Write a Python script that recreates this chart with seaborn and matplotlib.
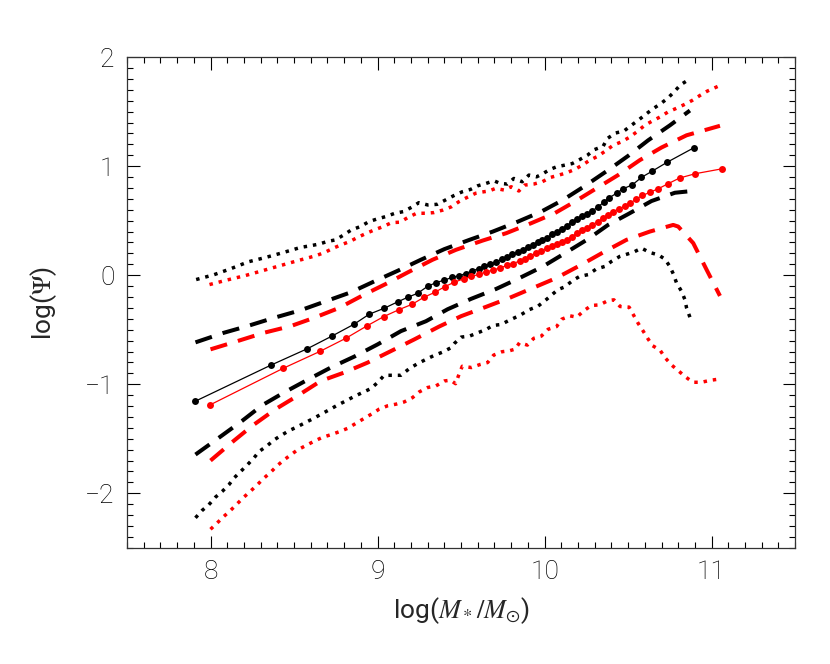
import matplotlib
matplotlib.use("Agg")
import matplotlib.pyplot as plt
import seaborn as sns
import pandas as pd
from matplotlib.ticker import MultipleLocator

# ---------------- data ----------------
bm_x = [7.91, 8.36, 8.58, 8.73, 8.86, 8.95, 9.04, 9.12, 9.18, 9.24, 9.30, 9.35, 9.40, 9.447, 9.487,
        9.528, 9.568, 9.605, 9.639, 9.675, 9.71, 9.744, 9.776, 9.806, 9.84, 9.871, 9.901, 9.931, 9.961,
        9.986, 10.016, 10.046, 10.076, 10.102, 10.133, 10.163, 10.193, 10.223, 10.254, 10.284, 10.318,
        10.354, 10.384, 10.431, 10.471, 10.526, 10.58, 10.643, 10.734, 10.893]
bm_y = [-1.155, -0.826, -0.674, -0.556, -0.449, -0.358, -0.303, -0.245, -0.203, -0.166, -0.102, -0.068,
        -0.045, -0.02, -0.005, 0.015, 0.04, 0.06, 0.082, 0.1, 0.122, 0.147, 0.168, 0.19, 0.21, 0.232,
        0.258, 0.28, 0.30, 0.322, 0.345, 0.375, 0.399, 0.424, 0.451, 0.488, 0.512, 0.543, 0.565, 0.588,
        0.624, 0.669, 0.707, 0.752, 0.793, 0.829, 0.897, 0.953, 1.036, 1.168]

rm_x = [7.994, 8.435, 8.655, 8.812, 8.934, 9.038, 9.13, 9.208, 9.277, 9.343, 9.403, 9.457, 9.518,
        9.562, 9.608, 9.649, 9.689, 9.735, 9.776, 9.81, 9.85, 9.884, 9.915, 9.951, 9.981, 10.012,
        10.042, 10.072, 10.102, 10.133, 10.163, 10.193, 10.223, 10.254, 10.284, 10.318, 10.35, 10.378,
        10.411, 10.445, 10.479, 10.512, 10.546, 10.586, 10.633, 10.681, 10.738, 10.808, 10.903, 11.06]
rm_y = [-1.192, -0.854, -0.699, -0.577, -0.467, -0.379, -0.315, -0.266, -0.203, -0.157, -0.105, -0.066,
        -0.032, -0.012, 0.008, 0.03, 0.046, 0.067, 0.091, 0.107, 0.129, 0.153, 0.178, 0.199, 0.218, 0.245,
        0.267, 0.282, 0.30, 0.322, 0.353, 0.384, 0.412, 0.436, 0.46, 0.491, 0.521, 0.552, 0.584, 0.608,
        0.632, 0.658, 0.697, 0.731, 0.762, 0.793, 0.838, 0.891, 0.931, 0.975]

bu_x = [7.91, 8.08, 8.22, 8.38, 8.54, 8.69, 8.84, 8.98, 9.12, 9.26, 9.40, 9.55, 9.69, 9.84, 9.98,
        10.11, 10.24, 10.38, 10.50, 10.62, 10.75, 10.87]
bu_y = [-0.616, -0.528, -0.467, -0.391, -0.321, -0.239, -0.157, -0.057, 0.04, 0.142, 0.239, 0.324,
        0.40, 0.491, 0.583, 0.69, 0.817, 0.963, 1.094, 1.237, 1.374, 1.51]

ru_x = [8.0, 8.16, 8.32, 8.48, 8.62, 8.77, 8.92, 9.05, 9.18, 9.33, 9.47, 9.63, 9.77, 9.92, 10.06,
        10.18, 10.31, 10.44, 10.57, 10.70, 10.85, 11.05]
ru_y = [-0.68, -0.605, -0.528, -0.467, -0.391, -0.30, -0.178, -0.08, 0.025, 0.142, 0.233, 0.318,
        0.385, 0.477, 0.568, 0.674, 0.796, 0.918, 1.055, 1.171, 1.283, 1.37]

bl_x = [7.91, 8.04, 8.19, 8.31, 8.44, 8.58, 8.72, 8.86, 9.0, 9.14, 9.29, 9.42, 9.56, 9.71, 9.85,
        9.99, 10.12, 10.26, 10.38, 10.50, 10.64, 10.78, 10.87]
bl_y = [-1.645, -1.502, -1.335, -1.192, -1.076, -0.96, -0.847, -0.747, -0.635, -0.513, -0.422, -0.312,
        -0.217, -0.126, -0.026, 0.08, 0.2, 0.331, 0.461, 0.56, 0.68, 0.756, 0.77]

rl_x = [8.0, 8.14, 8.25, 8.39, 8.52, 8.66, 8.80, 8.94, 9.08, 9.22, 9.37, 9.50, 9.65, 9.79, 9.93,
        10.07, 10.22, 10.36, 10.49, 10.63, 10.77, 10.80, 10.89, 10.97, 11.05]
rl_y = [-1.70, -1.518, -1.381, -1.228, -1.107, -0.97, -0.893, -0.802, -0.696, -0.589, -0.47, -0.376,
        -0.29, -0.208, -0.117, -0.026, 0.096, 0.217, 0.324, 0.40, 0.461, 0.446, 0.294, 0.05, -0.19]

bU_x = [7.914, 8.018, 8.117, 8.227, 8.331, 8.436, 8.54, 8.595, 8.649, 8.699, 8.749, 8.798, 8.844,
        8.898, 8.948, 8.998, 9.048, 9.104, 9.154, 9.204, 9.247, 9.301, 9.357, 9.407, 9.457, 9.507,
        9.557, 9.60, 9.65, 9.697, 9.733, 9.777, 9.816, 9.866, 9.906, 9.952, 9.992, 10.032, 10.072,
        10.12, 10.166, 10.211, 10.256, 10.299, 10.351, 10.375, 10.425, 10.475, 10.519, 10.565, 10.605,
        10.65, 10.695, 10.738, 10.774, 10.814, 10.87]
bU_y = [-0.04, 0.003, 0.057, 0.123, 0.163, 0.208, 0.255, 0.269, 0.285, 0.309, 0.324, 0.37, 0.416,
        0.446, 0.491, 0.516, 0.537, 0.568, 0.583, 0.623, 0.665, 0.644, 0.65, 0.69, 0.73, 0.765, 0.787,
        0.82, 0.842, 0.866, 0.842, 0.836, 0.887, 0.857, 0.918, 0.902, 0.933, 0.97, 0.994, 1.009, 1.024,
        1.061, 1.1, 1.152, 1.183, 1.253, 1.304, 1.322, 1.374, 1.426, 1.475, 1.527, 1.573, 1.624, 1.679,
        1.746, 1.80]

rU_x = [7.994, 8.102, 8.207, 8.313, 8.416, 8.519, 8.579, 8.629, 8.683, 8.735, 8.783, 8.834, 8.884,
        8.934, 8.982, 9.034, 9.084, 9.134, 9.184, 9.234, 9.287, 9.337, 9.393, 9.443, 9.487, 9.537,
        9.587, 9.627, 9.667, 9.707, 9.757, 9.80, 9.846, 9.88, 9.936, 9.986, 10.036, 10.086, 10.132,
        10.18, 10.226, 10.271, 10.319, 10.365, 10.411, 10.459, 10.505, 10.551, 10.599, 10.645, 10.69,
        10.738, 10.784, 10.834, 10.884, 10.93, 10.974, 11.05]
rU_y = [-0.086, -0.043, -0.004, 0.042, 0.087, 0.132, 0.157, 0.178, 0.208, 0.248, 0.279, 0.309, 0.349,
        0.385, 0.416, 0.446, 0.482, 0.486, 0.531, 0.568, 0.568, 0.574, 0.598, 0.628, 0.674, 0.714,
        0.751, 0.763, 0.772, 0.796, 0.781, 0.811, 0.772, 0.826, 0.836, 0.857, 0.897, 0.918, 0.939,
        0.97, 1.009, 1.055, 1.091, 1.14, 1.192, 1.222, 1.262, 1.313, 1.374, 1.414, 1.45, 1.496, 1.527,
        1.563, 1.603, 1.648, 1.688, 1.74]

bL_x = [7.91, 7.95, 7.99, 8.03, 8.07, 8.11, 8.14, 8.18, 8.22, 8.26, 8.29, 8.34, 8.38, 8.42, 8.47,
        8.52, 8.57, 8.62, 8.67, 8.71, 8.76, 8.81, 8.86, 8.91, 8.96, 9.0, 9.04, 9.09, 9.14, 9.19, 9.24,
        9.29, 9.34, 9.39, 9.44, 9.46, 9.50, 9.55, 9.60, 9.65, 9.69, 9.74, 9.78, 9.82, 9.86, 9.91, 9.96,
        10.01, 10.08, 10.12, 10.17, 10.21, 10.26, 10.31, 10.36, 10.40, 10.45, 10.50, 10.54, 10.58,
        10.63, 10.68, 10.72, 10.75, 10.77, 10.79, 10.82, 10.84, 10.85, 10.87]
bL_y = [-2.225, -2.157, -2.105, -2.035, -1.983, -1.922, -1.861, -1.801, -1.74, -1.676, -1.618, -1.563,
        -1.511, -1.472, -1.426, -1.39, -1.35, -1.311, -1.268, -1.235, -1.192, -1.153, -1.112, -1.076,
        -1.04, -0.985, -0.918, -0.918, -0.918, -0.857, -0.811, -0.772, -0.735, -0.705, -0.665, -0.626,
        -0.568, -0.559, -0.528, -0.498, -0.461, -0.452, -0.42, -0.391, -0.361, -0.315, -0.285, -0.224,
        -0.132, -0.108, -0.047, -0.011, 0.005, 0.057, 0.08, 0.126, 0.172, 0.196, 0.217, 0.248, 0.208,
        0.187, 0.148, 0.08, 0.014, -0.071, -0.148, -0.224, -0.3, -0.385]

rL_x = [8.0, 8.04, 8.08, 8.12, 8.16, 8.20, 8.24, 8.28, 8.32, 8.36, 8.40, 8.44, 8.48, 8.52, 8.57, 8.62,
        8.67, 8.72, 8.77, 8.82, 8.87, 8.92, 8.97, 9.01, 9.06, 9.11, 9.16, 9.21, 9.25, 9.30, 9.35, 9.40,
        9.437, 9.467, 9.487, 9.507, 9.562, 9.614, 9.659, 9.695, 9.745, 9.79, 9.824, 9.85, 9.897, 9.935,
        9.981, 10.021, 10.072, 10.102, 10.153, 10.193, 10.234, 10.28, 10.33, 10.381, 10.415, 10.452,
        10.506, 10.532, 10.56, 10.59, 10.617, 10.647, 10.691, 10.722, 10.762, 10.802, 10.844, 10.888,
        10.939, 10.996, 11.05]
rL_y = [-2.33, -2.272, -2.212, -2.157, -2.096, -2.035, -1.98, -1.922, -1.861, -1.807, -1.746, -1.694,
        -1.648, -1.603, -1.563, -1.523, -1.487, -1.463, -1.436, -1.405, -1.359, -1.313, -1.268, -1.228,
        -1.198, -1.183, -1.162, -1.122, -1.07, -1.03, -1.015, -0.97, -0.963, -0.995, -0.912, -0.835,
        -0.847, -0.819, -0.801, -0.733, -0.702, -0.693, -0.678, -0.619, -0.641, -0.579, -0.558, -0.496,
        -0.471, -0.404, -0.373, -0.385, -0.327, -0.278, -0.272, -0.232, -0.226, -0.287, -0.293, -0.364,
        -0.441, -0.512, -0.579, -0.647, -0.687, -0.758, -0.826, -0.878, -0.933, -0.982, -0.982, -0.963,
        -0.952]

x_ticks = [8, 9, 10, 11]
y_ticks = [-2, -1, 0, 1, 2]

# ---------------- style ----------------
sns.set_style("ticks")
plt.rcParams["font.family"] = ["Roboto", "DejaVu Sans"]
plt.rcParams["font.weight"] = "light"
plt.rcParams["mathtext.fontset"] = "stix"

fig = plt.figure(figsize=(8.3, 6.64), dpi=100)
ax = fig.add_axes([0.153, 0.175, 0.805, 0.739])

RED = "#ff0000"
DOT = (0, (1, 1.7))
DASH = (0, (4.3, 2.8))


def draw(x, y, color, **kw):
    df = pd.DataFrame({"x": x, "y": y})
    sns.lineplot(data=df, x="x", y="y", ax=ax, color=color, sort=False,
                 estimator=None, legend=False, **kw)


# dotted outer envelopes
for xs, ys, c in [(bU_x, bU_y, "black"), (rU_x, rU_y, RED),
                  (bL_x, bL_y, "black"), (rL_x, rL_y, RED)]:
    draw(xs, ys, c, linestyle=DOT, linewidth=2.5, dash_capstyle="butt")

# dashed inner envelopes
for xs, ys, c in [(bu_x, bu_y, "black"), (ru_x, ru_y, RED),
                  (bl_x, bl_y, "black"), (rl_x, rl_y, RED)]:
    draw(xs, ys, c, linestyle=DASH, linewidth=2.9, dash_capstyle="butt")

# medians
draw(bm_x, bm_y, "black", linewidth=0.9, marker="o", markersize=5,
     markeredgewidth=0, markerfacecolor="black")
draw(rm_x, rm_y, RED, linewidth=0.9, marker="o", markersize=5,
     markeredgewidth=0, markerfacecolor=RED)

ax.set_xlim(7.5, 11.5)
ax.set_ylim(-2.5, 2.0)
ax.set_xticks(x_ticks)
ax.set_yticks(y_ticks)
ax.xaxis.set_minor_locator(MultipleLocator(0.1))
ax.yaxis.set_minor_locator(MultipleLocator(0.1))
ax.tick_params(which="both", direction="in", top=True, right=True,
               width=0.8, color="black", labelsize=19, labelcolor="black")
ax.tick_params(which="major", length=9, pad=9)
ax.tick_params(which="minor", length=4.5)
for s in ax.spines.values():
    s.set_linewidth(0.9)
    s.set_color("#333333")

ax.set_xlabel(r"log($M_*/M_{\odot}$)", fontsize=19, labelpad=8)
ax.set_ylabel(r"log($\Psi$)", fontsize=19, labelpad=19)

fig.savefig("out.png", dpi=100)
